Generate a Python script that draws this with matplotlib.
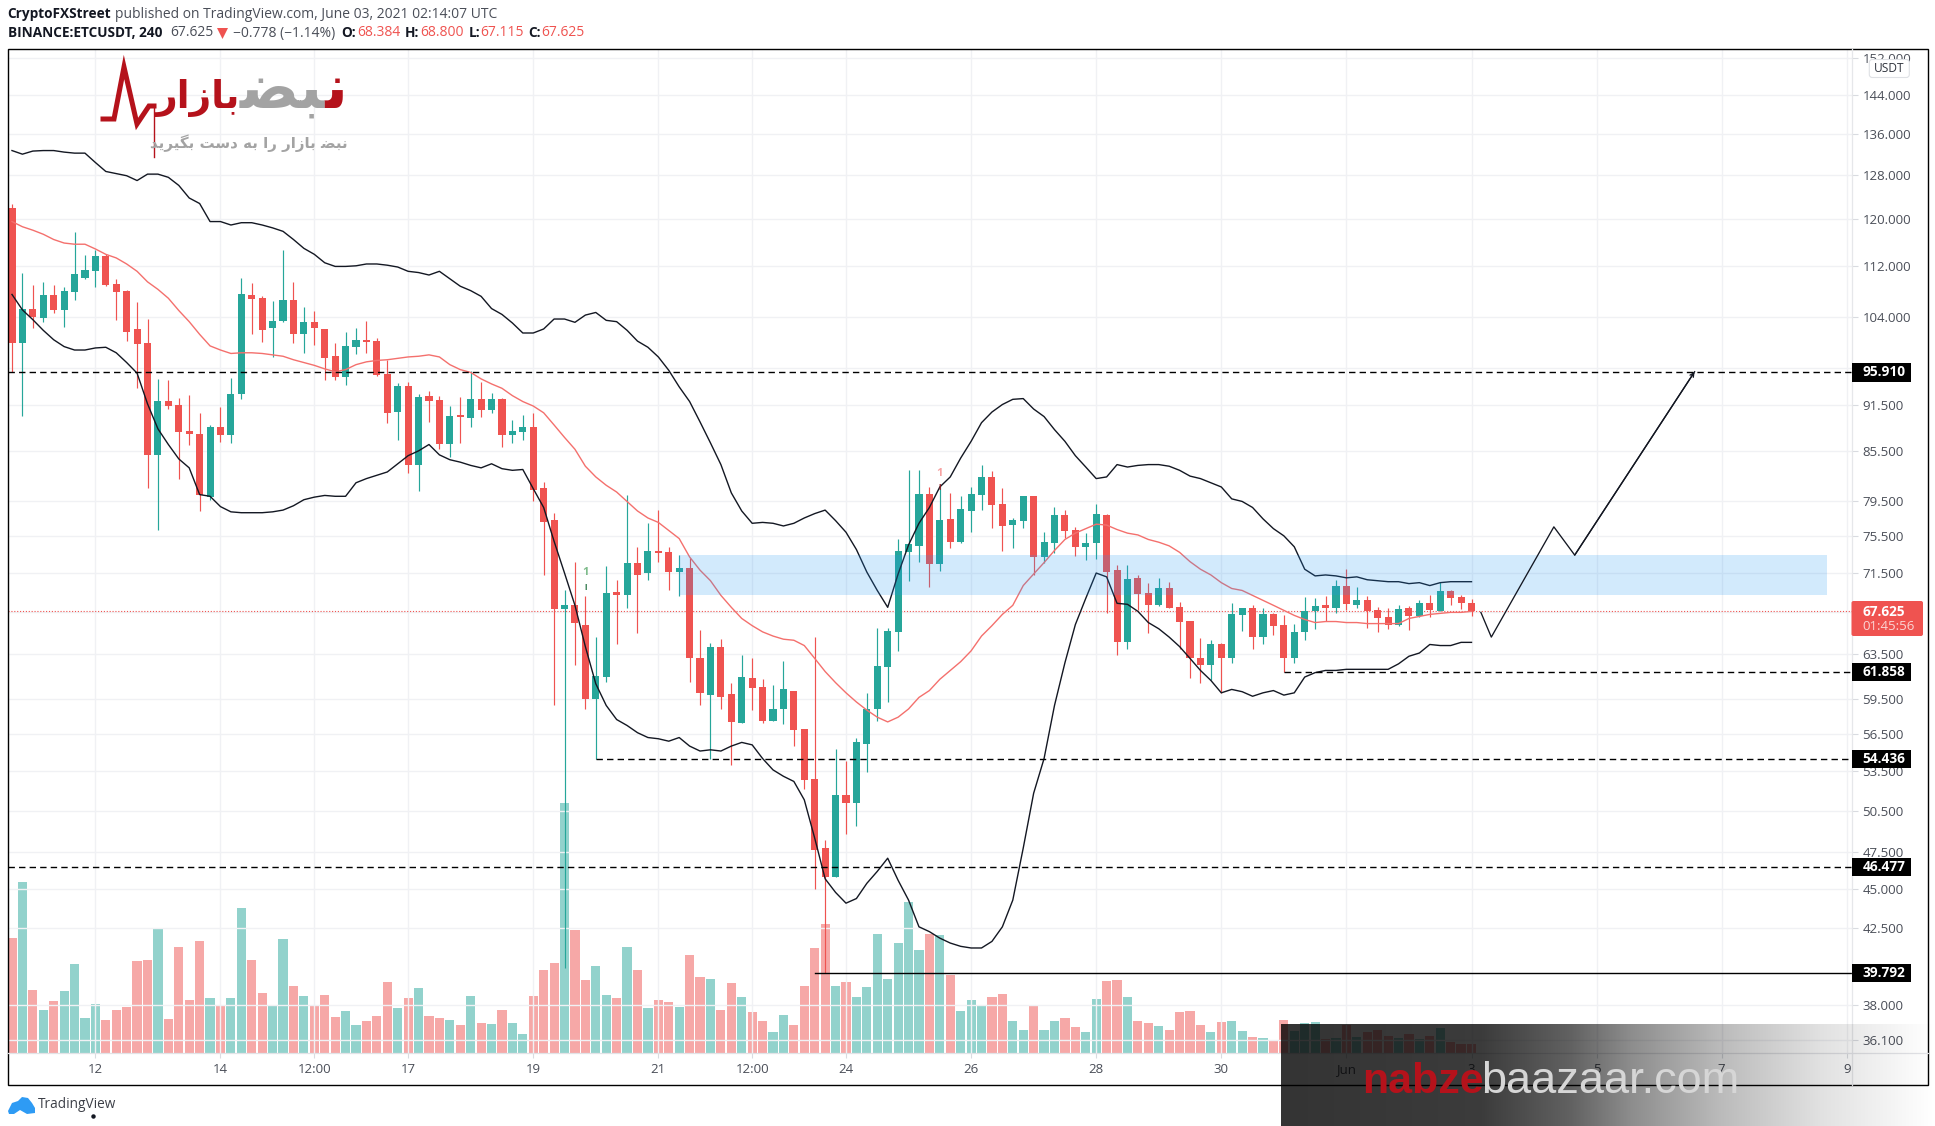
import matplotlib
matplotlib.use("Agg")
import matplotlib.pyplot as plt
from matplotlib.patches import Rectangle, FancyBboxPatch, Polygon
import numpy as np

plt.rcParams['font.family'] = ['Open Sans', 'DejaVu Sans']

# candles, 4h, first one is May 10 16:00
opens = [122.0, 100.1, 105.2, 103.8, 107.4, 105.1, 107.9, 110.1, 111.3, 113.7, 109.2, 108.0, 102.2, 100.1, 85.0, 92.0, 91.4, 88.0, 87.6, 79.9,
         88.5, 87.5, 92.9, 107.4, 107.0, 102.3, 103.4, 106.6, 101.5, 103.2, 102.2, 98.2, 95.2, 99.6, 100.6, 100.4, 95.7, 90.5, 94.0, 83.7,
         92.6, 92.1, 86.4, 90.1, 89.7, 92.3, 90.8, 92.3, 87.5, 87.9, 88.6, 81.0, 77.3, 67.8, 68.2, 66.3, 59.5, 61.4, 69.5, 69.2,
         72.6, 71.5, 73.8, 73.7, 71.6, 72.0, 63.1, 59.8, 64.2, 59.9, 57.4, 61.3, 60.5, 57.6, 58.6, 60.2, 56.9, 52.9, 47.8, 45.8,
         51.7, 51.1, 55.7, 58.6, 62.3, 65.6, 73.7, 74.4, 80.3, 72.4, 77.4, 74.8, 78.3, 80.1, 82.3, 79.1, 76.7, 77.2, 80.0, 73.2,
         74.7, 77.8, 76.2, 74.3, 74.7, 77.8, 71.8, 64.6, 71.0, 69.4, 68.2, 70.0, 68.0, 66.7, 63.1, 62.5, 64.4, 63.1, 67.2, 67.9,
         65.1, 67.3, 66.3, 63.1, 65.6, 67.6, 68.2, 67.9, 70.2, 68.2, 68.7, 67.7, 67.0, 66.3, 67.9, 67.1, 68.4, 67.6, 69.6, 69.0, 68.384]
highs = [122.7, 110.9, 109.0, 109.5, 109.0, 108.6, 117.8, 113.9, 114.7, 114.0, 109.9, 108.2, 106.3, 103.7, 95.0, 94.8, 92.4, 92.8, 90.4, 88.8,
         91.2, 95.1, 110.1, 109.3, 107.3, 106.4, 114.7, 109.5, 105.5, 104.9, 102.2, 100.1, 101.7, 102.4, 103.4, 100.8, 97.6, 94.4, 94.6, 92.9,
         93.3, 92.6, 91.3, 92.5, 96.1, 94.6, 93.1, 92.4, 89.5, 90.1, 90.4, 81.7, 78.1, 69.7, 72.7, 69.1, 65.1, 72.2, 70.8, 80.1,
         74.3, 76.9, 78.4, 74.3, 73.4, 73.1, 65.8, 64.5, 64.9, 60.9, 63.4, 63.1, 61.2, 60.7, 62.9, 60.2, 56.9, 65.1, 48.4, 55.3,
         54.3, 56.2, 60.0, 66.0, 66.0, 75.2, 83.1, 83.1, 81.1, 81.5, 80.4, 80.0, 81.1, 83.7, 83.0, 81.0, 77.5, 80.0, 80.0, 75.9,
         78.8, 78.4, 76.5, 75.8, 79.1, 77.9, 72.3, 72.3, 71.3, 70.5, 71.0, 70.6, 68.5, 66.7, 65.0, 64.8, 64.5, 68.4, 67.9, 68.2,
         67.9, 67.4, 67.2, 66.4, 69.0, 68.9, 69.1, 70.8, 71.9, 70.1, 69.1, 68.0, 67.9, 68.2, 68.1, 68.7, 69.2, 70.6, 69.7, 69.2, 68.8]
lows = [96.0, 90.0, 102.3, 103.2, 104.6, 102.5, 106.6, 110.0, 108.7, 108.9, 103.6, 100.4, 93.8, 81.0, 76.2, 90.9, 82.0, 86.3, 78.3, 79.6,
        86.6, 86.5, 92.2, 101.4, 100.3, 98.1, 103.2, 100.1, 98.7, 99.9, 94.8, 94.8, 94.2, 98.5, 98.6, 95.4, 89.1, 86.9, 82.8, 80.6,
        89.2, 85.7, 84.7, 86.5, 88.6, 89.9, 90.4, 86.0, 86.5, 86.9, 79.4, 71.3, 58.9, 40.1, 62.5, 58.6, 54.5, 61.0, 64.4, 67.9,
        65.5, 70.8, 72.7, 69.7, 69.1, 61.0, 58.9, 54.5, 58.6, 54.0, 57.4, 58.5, 57.4, 57.6, 57.3, 55.5, 52.1, 45.0, 39.8, 45.8,
        48.8, 49.4, 53.4, 57.6, 59.2, 63.8, 70.7, 72.7, 70.1, 71.7, 74.2, 74.7, 75.9, 78.4, 76.4, 73.8, 74.2, 76.4, 71.3, 72.6,
        73.6, 75.3, 73.3, 72.9, 73.0, 67.4, 63.4, 64.0, 67.7, 65.5, 68.1, 67.9, 64.0, 61.3, 60.9, 61.1, 60.0, 62.7, 65.7, 64.0,
        64.4, 65.3, 61.9, 62.7, 64.8, 65.9, 66.7, 67.4, 67.7, 67.9, 66.0, 65.6, 65.9, 66.2, 65.8, 67.0, 67.0, 67.6, 68.2, 67.8, 67.115]
closes = [100.1, 105.2, 104.0, 107.4, 105.1, 108.0, 110.7, 111.4, 113.7, 109.0, 107.9, 101.7, 100.0, 85.0, 92.0, 91.3, 87.9, 87.6, 80.1, 88.5,
          87.5, 92.9, 107.6, 106.8, 102.1, 103.4, 106.6, 101.5, 103.2, 102.3, 98.0, 95.2, 99.7, 100.6, 100.3, 95.6, 90.4, 94.0, 83.7, 92.5,
          92.0, 86.4, 90.0, 89.8, 92.3, 90.8, 92.3, 87.5, 88.0, 88.6, 80.7, 77.0, 67.8, 68.2, 66.5, 59.5, 61.5, 69.4, 69.2, 72.6,
          71.3, 73.8, 73.6, 71.6, 72.0, 63.1, 60.0, 64.2, 59.6, 57.5, 61.4, 60.4, 57.6, 58.6, 60.3, 56.8, 52.8, 47.7, 45.8, 51.7,
          51.1, 55.8, 58.6, 62.4, 65.7, 73.8, 74.6, 80.3, 72.4, 77.3, 74.8, 78.5, 80.3, 82.3, 79.0, 76.6, 77.3, 80.0, 73.2, 74.8,
          77.8, 76.0, 74.3, 74.7, 77.9, 71.6, 64.6, 70.9, 69.3, 68.2, 70.0, 67.9, 66.6, 63.1, 62.5, 64.4, 63.1, 67.3, 67.9, 65.1,
          67.3, 66.2, 63.1, 65.6, 67.6, 68.1, 67.9, 70.2, 68.3, 68.7, 67.6, 66.9, 66.3, 67.8, 67.1, 68.4, 67.7, 69.6, 68.9, 68.4, 67.625]
volumes = [115, 171, 63, 43, 52, 62, 89, 35, 49, 33, 43, 46, 92, 93, 124, 34, 106, 53, 112, 55,
           47, 55, 145, 93, 60, 47, 114, 67, 57, 47, 58, 36, 42, 28, 32, 37, 71, 45, 55, 65,
           37, 35, 33, 28, 57, 30, 29, 43, 30, 19, 57, 83, 90, 250, 123, 73, 87, 58, 55, 106,
           83, 45, 53, 51, 46, 98, 76, 74, 43, 70, 56, 41, 32, 21, 38, 28, 67, 105, 129, 67,
           71, 56, 66, 119, 74, 110, 151, 103, 119, 118, 78, 42, 53, 48, 56, 59, 32, 23, 48, 23,
           32, 35, 26, 21, 54, 72, 73, 56, 32, 30, 27, 23, 41, 42, 28, 21, 31, 32, 22, 16,
           15, 13, 33, 22, 30, 31, 14, 15, 28, 16, 21, 23, 17, 15, 19, 14, 17, 25, 11, 9, 9]

# bollinger bands
bb_upper = [132.7, 132.0, 132.6, 132.7, 132.7, 132.4, 132.2, 132.2, 130.4, 128.7, 128.3, 127.9, 127.0, 128.2, 128.2, 127.6, 126.1, 123.8, 122.8, 119.6,
            119.6, 119.0, 119.4, 119.4, 119.0, 118.5, 117.9, 116.5, 115.0, 114.0, 112.6, 112.0, 112.0, 112.1, 112.4, 112.4, 112.2, 111.9, 111.2, 111.0,
            110.6, 111.2, 110.0, 108.8, 108.1, 107.2, 105.3, 104.4, 103.1, 101.6, 101.6, 102.2, 103.7, 103.7, 103.2, 104.3, 104.7, 103.5, 103.3, 102.0,
            100.4, 99.5, 98.1, 96.2, 93.9, 91.9, 89.2, 86.5, 83.8, 80.4, 78.3, 76.9, 77.0, 76.9, 76.6, 76.9, 77.5, 78.0, 78.4, 77.2,
            75.9, 74.0, 71.6, 69.7, 68.0, 71.4, 74.5, 76.9, 78.7, 81.1, 82.3, 84.6, 86.7, 89.1, 90.5, 91.5, 92.2, 92.3, 90.9, 89.9,
            88.2, 86.7, 84.9, 83.5, 82.1, 82.3, 83.8, 83.5, 83.7, 83.8, 83.8, 83.6, 83.1, 82.4, 82.1, 81.6, 81.1, 79.7, 79.4, 78.7,
            77.4, 76.3, 75.5, 74.3, 71.9, 71.2, 71.3, 71.2, 71.0, 71.1, 70.8, 70.7, 70.6, 70.6, 70.4, 70.5, 70.2, 70.5, 70.6, 70.6, 70.6]
bb_basis = [119.6, 118.7, 118.1, 117.4, 116.5, 115.9, 115.7, 115.7, 114.9, 114.0, 113.4, 112.4, 111.2, 109.5, 108.3, 106.9, 105.0, 103.3, 101.4, 99.7,
            99.1, 98.6, 98.7, 98.7, 98.6, 98.4, 98.2, 97.7, 97.3, 96.9, 96.4, 96.0, 96.3, 97.0, 97.4, 97.6, 97.7, 97.9, 98.1, 98.2,
            98.4, 98.1, 97.0, 96.3, 95.9, 95.0, 94.3, 93.7, 92.7, 91.9, 91.3, 90.4, 88.8, 87.2, 85.7, 83.6, 82.3, 81.3, 80.5, 79.4,
            78.3, 77.5, 77.0, 76.1, 75.2, 73.2, 71.8, 70.7, 69.2, 68.0, 66.9, 66.2, 65.6, 65.2, 64.9, 64.8, 64.3, 63.1, 61.9, 60.9,
            60.0, 59.2, 58.5, 57.9, 57.5, 57.9, 58.6, 59.6, 60.2, 61.2, 62.0, 62.8, 63.8, 65.2, 66.2, 67.3, 68.2, 70.2, 71.4, 72.6,
            73.9, 75.1, 75.8, 76.3, 76.8, 76.7, 76.2, 75.8, 75.6, 75.1, 74.8, 74.4, 73.7, 72.7, 71.9, 71.3, 70.5, 69.9, 69.7, 69.2,
            68.7, 68.2, 67.7, 67.2, 66.8, 66.5, 66.6, 66.6, 66.5, 66.5, 66.4, 66.4, 66.4, 66.4, 66.9, 67.1, 67.3, 67.4, 67.5, 67.5, 67.6]
bb_lower = [107.5, 105.1, 103.6, 102.0, 100.6, 99.6, 99.1, 99.1, 99.4, 99.5, 98.7, 97.3, 95.8, 91.6, 88.3, 86.3, 84.5, 83.4, 80.2, 80.0,
            78.8, 78.2, 78.1, 78.1, 78.1, 78.2, 78.4, 78.9, 79.6, 79.9, 80.1, 80.0, 80.0, 81.6, 82.1, 82.5, 82.9, 83.9, 84.9, 85.5,
            86.3, 85.0, 84.4, 84.1, 83.7, 83.4, 83.9, 83.3, 83.1, 83.2, 80.9, 78.7, 74.9, 71.5, 68.2, 64.2, 60.8, 58.9, 57.7, 57.2,
            56.6, 56.2, 56.1, 55.9, 56.2, 55.5, 55.1, 55.2, 55.1, 55.5, 55.8, 55.6, 54.5, 53.6, 53.1, 52.7, 51.3, 48.5, 45.7, 44.8,
            44.1, 44.4, 45.4, 46.2, 47.1, 45.6, 44.3, 42.6, 42.3, 41.9, 41.6, 41.4, 41.3, 41.3, 41.7, 42.6, 44.3, 47.8, 51.8, 54.5,
            58.9, 62.7, 66.3, 68.9, 71.5, 71.1, 68.4, 68.3, 67.6, 66.5, 65.9, 65.1, 64.2, 63.1, 62.0, 61.1, 60.0, 60.3, 60.1, 59.7,
            60.0, 60.2, 59.8, 60.0, 61.4, 61.8, 62.0, 62.0, 62.1, 62.1, 62.1, 62.1, 62.1, 62.6, 63.3, 63.6, 64.4, 64.3, 64.3, 64.6, 64.6]

# drawn on top of the chart by the author
level_values = [95.910, 61.858, 54.436, 46.477, 39.792]
level_starts = [-0.43, 122, 56, -0.43, 77]
level_styles = ['dashed', 'dashed', 'dashed', 'dashed', 'solid']
forecast_x = [140.9, 141.9, 147.9, 149.9, 161.4]
forecast_y = [67.5, 65.1, 76.5, 73.4, 96.0]
zone_x = [64, 174.07]
zone_y = [69.2, 73.4]
last_price = 67.625

price_ticks = [152, 144, 136, 128, 120, 112, 104, 96.5, 91.5, 85.5, 79.5, 75.5, 71.5, 67.5, 63.5, 59.5, 56.5, 53.5, 50.5, 47.5, 45, 42.5, 38, 36.1]
hidden_ticks = [96.5, 67.5]
date_ticks = [8, 20, 29, 38, 50, 62, 71, 80, 92, 104, 116, 128, 140, 152, 164, 176]
date_labels = ['12', '14', '12:00', '17', '19', '21', '12:00', '24', '26', '28', '30', 'Jun', '3', '5', '7', '9']

UP = '#26a69a'
DOWN = '#ef5350'
TEXT = '#4a4e58'
GRID = '#f0f1f4'
W, H = 1935, 1126
PANE_RIGHT = 1851.5
X_MAX = 176.45

fig = plt.figure(figsize=(W / 100, H / 100), dpi=100, facecolor='white')


def pane_rect(x0, y0, x1, y1):
    return [x0 / W, 1 - y1 / H, (x1 - x0) / W, (y1 - y0) / H]


rect = pane_rect(7.5, 49.3, PANE_RIGHT, 1053.3)
ax_vol = fig.add_axes(rect, zorder=1)
ax = fig.add_axes(rect, zorder=2, sharex=ax_vol)
ax.patch.set_alpha(0)

idx = np.arange(len(closes))
o, h, l, c = np.array(opens), np.array(highs), np.array(lows), np.array(closes)
colors = [UP if c[i] >= o[i] else DOWN for i in idx]

# volume pane, same x scale
ax_vol.bar(idx, volumes, width=0.88, color=colors, alpha=0.5, linewidth=0)
ax_vol.set_ylim(0, 1004)
ax_vol.axis('off')

# price pane
ax.set_yscale('log')
ax.set_xlim(-0.43, X_MAX)
ax.set_ylim(35.4, 153.9)
ax.vlines(idx, l, h, colors=colors, linewidth=0.85, zorder=3)
ax.bar(idx, np.maximum(np.abs(c - o), 0.15), bottom=np.minimum(o, c), width=0.68, color=colors, linewidth=0, zorder=3.2)

ax.plot(idx, bb_upper, color='#131722', lw=1.0, zorder=4)
ax.plot(idx, bb_lower, color='#131722', lw=1.0, zorder=4)
ax.plot(idx, bb_basis, color='#f4706d', lw=1.0, zorder=4)

ax.add_patch(Rectangle((zone_x[0], zone_y[0]), zone_x[1] - zone_x[0], zone_y[1] - zone_y[0],
                       facecolor='#2196f3', alpha=0.2, linewidth=0, zorder=5))
ax.axhline(last_price, color=DOWN, ls=(0, (1, 1.6)), lw=0.8, zorder=2.5)

for value, start, style in zip(level_values, level_starts, level_styles):
    ls = (0, (4.6, 3.0)) if style == 'dashed' else '-'
    ax.plot([start, X_MAX], [value, value], color='black', lw=1.0, ls=ls, zorder=6)

ax.plot(forecast_x, forecast_y, color='#131722', lw=0.95, zorder=6)
ax.annotate('', xy=(forecast_x[-1], forecast_y[-1]), xytext=(forecast_x[-2], forecast_y[-2]),
            arrowprops=dict(arrowstyle='->', lw=0.95, color='#131722', mutation_scale=7, shrinkA=0, shrinkB=0), zorder=6)

# the two "1" flags
ax.text(55, 71.6, '1', color='#7dbb8a', fontsize=8, fontweight='bold', ha='center', va='center', zorder=7)
ax.text(55, 70.0, 'I', color='#1b6b3a', fontsize=5.5, fontweight='bold', ha='center', va='center', zorder=7)
ax.text(89, 82.7, '1', color='#f7a3a3', fontsize=8, fontweight='bold', ha='center', va='center', zorder=7)
ax.text(89, 81.0, 'I', color='#a3141c', fontsize=5.5, fontweight='bold', ha='center', va='center', zorder=7)

for side in ax.spines:
    ax.spines[side].set_visible(False)
ax.yaxis.tick_right()
ax.minorticks_off()
ax.set_yticks(price_ticks)
ax.set_yticklabels(['' if p in hidden_ticks else '%.3f' % p for p in price_ticks])
ax.tick_params(axis='y', which='both', length=4.2, width=0.8, color='#d9dbe0', pad=3.6, labelsize=9.5, labelcolor=TEXT)
ax.set_xticks(date_ticks)
ax.set_xticklabels(date_labels)
ax.tick_params(axis='x', length=3.6, width=0.8, color='#d9dbe0', pad=3.5, labelsize=9.5, labelcolor=TEXT)
ax.grid(True, color=GRID, lw=1.0, zorder=0)
ax.set_axisbelow(True)

# overlay in image pixels for everything around the chart
top = fig.add_axes([0, 0, 1, 1], zorder=10)
top.set_xlim(0, W)
top.set_ylim(H, 0)
top.axis('off')
top.patch.set_alpha(0)

# pane separators and frame
top.plot([PANE_RIGHT, PANE_RIGHT], [49.3, 1084.6], color='#e6e7ea', lw=0.9)
top.plot([7.5, 1927.5], [1053.3, 1053.3], color='#e2e3e7', lw=0.9)
top.add_patch(Rectangle((7.5, 49.3), 1920, 1035.3, fill=False, edgecolor='black', lw=1.0))

# header
top.text(7.5, 14.3, 'CryptoFXStreet', fontsize=9.8, fontweight='bold', color='#131722', va='center')
top.text(115, 14.3, 'published on TradingView.com, June 03, 2021 02:14:07 UTC', fontsize=10, color='#4a4e58', va='center')
top.text(7.5, 33, 'BINANCE:ETCUSDT, 240', fontsize=9.8, fontweight='bold', color='#131722', va='center')
top.text(170, 33, '67.625', fontsize=10, color='#4a4e58', va='center')
top.add_patch(Polygon([(217, 28), (228, 28), (222.5, 39)], facecolor=DOWN, linewidth=0))
top.text(233, 33, '\u22120.778 (\u22121.14%)', fontsize=10, color='#4a4e58', va='center')
for lab, lab_x, val, val_x in [('O:', 341, '68.384', 357), ('H:', 405, '68.800', 420),
                               ('L:', 468.5, '67.115', 480), ('C:', 528.6, '67.625', 541)]:
    top.text(lab_x, 33, lab, fontsize=9.8, fontweight='bold', color='#131722', va='center')
    top.text(val_x, 33, val, fontsize=10, color=DOWN, va='center')

# logo, presentation forms in drawing order because text is not shaped here
RED = '#b5121b'
GRAY = '#a3a3a3'
top.plot([103, 114, 124, 137, 149, 154], [119, 119, 67, 124, 106, 106], color=RED, lw=3.6, solid_joinstyle='miter')
top.plot([153.5, 153.5], [105, 157], color=RED, lw=1.0)
word_bazaar = '\ufe91\ufe8e\ufeaf\ufe8d\ufead'[::-1]
top.text(156, 108, word_bazaar, fontsize=27, fontweight='bold', color=RED, family='DejaVu Sans', va='baseline', ha='left')
top.text(347, 108, '\ufee7', fontsize=44, fontweight='bold', color=RED, family='DejaVu Sans', va='baseline', ha='right')
top.text(325, 108, '\ufe92\ufec0'[::-1], fontsize=44, fontweight='bold', color=GRAY, family='DejaVu Sans', va='baseline', ha='right')
tagline = '\ufee7\ufe92\ufec0 \ufe91\ufe8e\ufeaf\ufe8d\ufead \ufead\ufe8d \ufe91\ufeea \ufea9\ufeb3\ufe96 \ufe91\ufb95\ufbff\ufeae\ufbfe\ufeaa'[::-1]
top.text(347.4, 143, tagline, fontsize=10.8, fontweight='bold', color=GRAY, family='DejaVu Sans', va='center', ha='right')

# axis badges
for value in level_values:
    y = 94.8 + 683 * np.log(144 / value)
    top.add_patch(Rectangle((PANE_RIGHT, y - 9.2), 59.2, 18.4, facecolor='black', linewidth=0, zorder=3))
    top.text(1862.7, y, '%.3f' % value, fontsize=9.8, fontweight='bold', color='white', va='center', zorder=4)
top.add_patch(FancyBboxPatch((1852.5, 602), 69.5, 33, boxstyle='round,pad=1,rounding_size=2', facecolor=DOWN, linewidth=0, zorder=3))
top.text(1862.7, 611.5, '67.625', fontsize=9.8, fontweight='bold', color='white', va='center', zorder=4)
top.text(1862.7, 627, '01:45:56', fontsize=9.5, color='#fbd5d4', va='center', zorder=4)
top.add_patch(FancyBboxPatch((1870.3, 60.5), 38, 16, boxstyle='round,pad=1,rounding_size=3', facecolor='white', edgecolor='#dfe1e5', lw=0.8, zorder=3))
top.text(1889.3, 68.5, 'USDT', fontsize=8.6, color='#30343d', ha='center', va='center', zorder=4)

# tradingview mark
top.add_patch(Polygon([(8, 1111), (12, 1103), (18, 1101), (22, 1097), (28, 1098), (32, 1103), (35, 1108), (35, 1113), (27, 1114), (20, 1110), (14, 1114), (9, 1114)],
                      facecolor='#2e9bf4', linewidth=0))
top.text(38, 1105, 'TradingView', fontsize=9.8, color='#3c3f47', va='center')
top.plot([93], [1116], marker='o', ms=2.2, color='#131722')

# watermark band at the bottom
gradient = np.zeros((2, 654, 4))
px = np.arange(654)
gradient[:, :, 3] = np.interp(px, [0, 200, 290, 350, 440, 540, 654], [0.8, 0.77, 0.62, 0.45, 0.27, 0.12, 0.0])
top.imshow(gradient, extent=(1281, 1935, 1126, 1024), aspect='auto', zorder=6, interpolation='bilinear')
top.set_xlim(0, W)
top.set_ylim(H, 0)
top.text(1362, 1093, 'nabze', fontsize=31, fontweight='bold', color=RED, family='Liberation Sans', va='baseline', zorder=7)
top.text(1481, 1093, 'baazaar.com', fontsize=32.5, color='#d6d6d6', family='Liberation Sans', va='baseline', zorder=7)

fig.savefig('out.png', dpi=100)
